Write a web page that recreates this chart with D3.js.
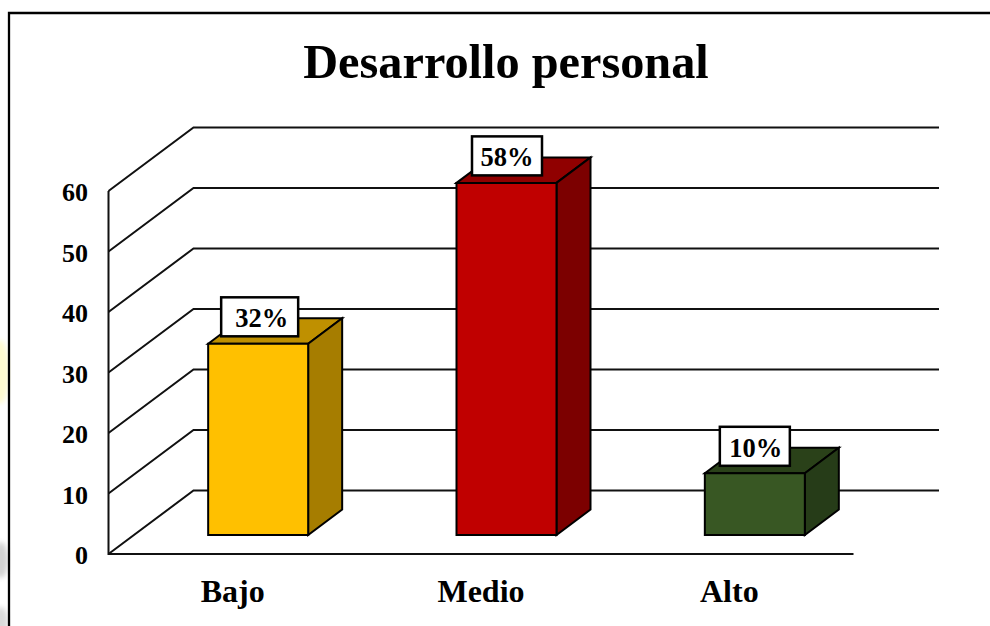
<!DOCTYPE html>
<html><head><meta charset="utf-8">
<script src="https://cdn.jsdelivr.net/npm/d3@7/dist/d3.min.js"></script>
<style>html,body{margin:0;padding:0;background:#fff}svg{display:block}text{font-family:"Liberation Serif","Times New Roman",serif;font-weight:bold;fill:#000}</style>
</head><body><div id="chart"></div>
<script>
const chartTitle = "Desarrollo personal";
const categories = ["Bajo", "Medio", "Alto"];
const values = [31.6, 58.2, 10.2];
const valueLabels = ["32%", "58%", "10%"];
const yTicks = [0, 10, 20, 30, 40, 50, 60];
const frontColors = ["#FFC000", "#C00000", "#385723"];
const topColors = ["#BF9000", "#900000", "#2A4119"];
const sideColors = ["#A67D00", "#7C0000", "#263C18"];

const W = 990, H = 626;
const svg = d3.select("#chart").append("svg").attr("width", W).attr("height", H);

const x = d3.scaleBand().domain(categories).range([108.5, 853.5]);
const y = d3.scaleLinear().domain([0, 60]).range([554, 191]);
const depth = { dx: 85, dy: -63.5 };
const barInset = { dx: 25.5, dy: -19 };
const barDepth = { dx: 34, dy: -25.5 };
const barWidth = 100;
const line = d3.line();

// faint background remnants at the left edge
svg.append("defs").append("filter").attr("id", "soft")
  .append("feGaussianBlur").attr("stdDeviation", 2.5);
const bg = svg.append("g").attr("filter", "url(#soft)");
bg.append("ellipse").attr("cx", 0).attr("cy", 372).attr("rx", 9).attr("ry", 32).attr("fill", "#FFFBD0");
bg.append("ellipse").attr("cx", 1).attr("cy", 560).attr("rx", 7).attr("ry", 18).attr("fill", "#D2D2D2");
bg.append("ellipse").attr("cx", 1).attr("cy", 622).attr("rx", 7).attr("ry", 15).attr("fill", "#DADADA");

// frame
svg.append("path").attr("d", line([[9, H], [9, 13], [W, 13]]))
  .attr("fill", "none").attr("stroke", "#000").attr("stroke-width", 2.3);

// wall and floor
const grid = svg.append("g").attr("fill", "none").attr("stroke", "#111").attr("stroke-width", 2);
grid.append("path").attr("d", line([[108.5, y(60)], [108.5, y(0)], [853.5, y(0)]]));
yTicks.forEach(t => {
  grid.append("path").attr("d", line([
    [108.5, y(t)],
    [108.5 + depth.dx, y(t) + depth.dy],
    [939, y(t) + depth.dy]
  ]));
});

// y tick labels
svg.append("g").selectAll("text").data(yTicks).join("text")
  .attr("x", 88).attr("y", d => y(d) + 1.5).attr("dy", "0.33em")
  .attr("text-anchor", "end").attr("font-size", 26).text(d => d);

// x category labels
svg.append("g").selectAll("text").data(categories).join("text")
  .attr("x", d => x(d) + x.bandwidth() / 2).attr("y", 601.5)
  .attr("text-anchor", "middle").attr("font-size", 32).text(d => d);

// bars
const bars = svg.append("g").attr("stroke", "#000").attr("stroke-width", 2).attr("stroke-linejoin", "miter");
categories.forEach((c, i) => {
  const x0 = x(c) + x.bandwidth() / 2 + barInset.dx - barWidth / 2;
  const x1 = x0 + barWidth;
  const yB = y(0) + barInset.dy;
  const yT = y(values[i]) + barInset.dy;
  const d = barDepth;
  bars.append("path").attr("fill", topColors[i]).attr("d", line([[x0, yT], [x0 + d.dx, yT + d.dy], [x1 + d.dx, yT + d.dy], [x1, yT]]) + "Z");
  bars.append("path").attr("fill", sideColors[i]).attr("d", line([[x1, yT], [x1 + d.dx, yT + d.dy], [x1 + d.dx, yB + d.dy], [x1, yB]]) + "Z");
  bars.append("path").attr("fill", frontColors[i]).attr("d", line([[x0, yT], [x1, yT], [x1, yB], [x0, yB]]) + "Z");
});

// value label boxes
const labelW = [77, 70, 70], labelShift = [1.5, 0.5, 0], textShift = [3.5, 0.5, 1], labelH = 39, labelGap = 7.5;
const labels = svg.append("g");
categories.forEach((c, i) => {
  const cx = x(c) + x.bandwidth() / 2 + barInset.dx;
  const yT = y(values[i]) + barInset.dy;
  labels.append("rect").attr("x", cx - labelW[i] / 2 + labelShift[i]).attr("y", yT - labelGap - labelH)
    .attr("width", labelW[i]).attr("height", labelH)
    .attr("fill", "#fff").attr("stroke", "#000").attr("stroke-width", 2.5);
  labels.append("text").attr("x", cx + textShift[i]).attr("y", yT - labelGap - labelH / 2 + 1.5).attr("dy", "0.34em")
    .attr("text-anchor", "middle").attr("font-size", 26.5).text(valueLabels[i]);
});

// title
svg.append("text").attr("x", 506).attr("y", 78).attr("text-anchor", "middle")
  .attr("font-size", 48.3).text(chartTitle);
</script></body></html>
